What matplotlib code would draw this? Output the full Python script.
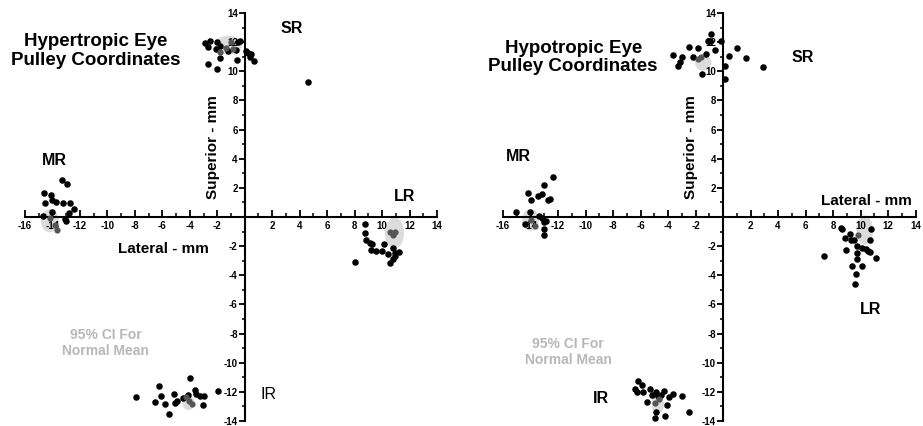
import matplotlib.pyplot as plt
from matplotlib.patches import Ellipse
from matplotlib.ticker import FixedLocator, FuncFormatter

plt.rcParams["font.family"] = ["Liberation Sans", "DejaVu Sans"]

# ---- Hypertropic eye (left panel) ----
hyper_sr_x = [-2.91, -2.55, -2.67, -2.02, -2.06, -1.82, -1.22, -0.49, -0.36, -0.61,
              -2.67, -2.02, -1.82, -0.56, 0.07, 0.24, 0.42, 0.36, 0.66, 4.61]
hyper_sr_y = [11.92, 12.06, 11.69, 12.0, 11.53, 11.76, 11.42, 12.0, 12.06, 11.46,
              10.5, 10.15, 10.92, 10.78, 11.37, 11.23, 11.19, 10.96, 10.68, 9.29]
hyper_mr_x = [-14.64, -14.08, -14.01, -13.77, -13.28, -12.92, -14.57, -13.23, -12.75,
              -12.45, -12.82, -12.99, -14.69, -13.08, -14.05]
hyper_mr_y = [1.63, 1.49, 1.15, 1.05, 2.54, 2.25, 0.94, 0.94, 0.94, 0.53, 0.25,
              -0.28, 0.07, -0.16, 0.32]
hyper_lr_x = [8.74, 8.74, 8.86, 9.10, 9.30, 9.22, 9.59, 9.96, 10.12, 10.8, 11.24,
              10.44, 10.92, 10.8, 10.61, 8.01, 10.95]
hyper_lr_y = [-0.46, -1.08, -1.6, -1.77, -1.88, -2.29, -2.34, -2.34, -1.88, -2.15,
              -2.38, -2.57, -2.68, -2.91, -3.14, -3.07, -2.45]
hyper_ir_x = [-7.94, -6.55, -6.24, -6.07, -5.78, -5.54, -5.17, -5.1, -4.9, -4.49,
              -4.13, -4.0, -3.64, -3.52, -3.28, -2.99, -3.04, -1.94]
hyper_ir_y = [-12.38, -12.7, -11.58, -12.31, -12.84, -13.5, -12.13, -12.77, -12.65,
              -12.43, -12.2, -11.05, -11.9, -12.15, -12.27, -12.31, -12.88, -11.92]

# normal means (dark grey) and 95% CI ellipses (cx, cy, w, h)
hyper_norm_x = [-1.8, -1.4, -1.0, -0.85, -14.2, -13.8, -13.7, 10.55, 10.8, 10.95, -4.3, -4.05, -3.85]
hyper_norm_y = [11.35, 11.6, 12.0, 11.5, -0.1, -0.55, -0.9, -1.0, -1.2, -1.05, -12.35, -12.6, -12.8]
hyper_ci = [(-1.2, 11.8, 2.0, 1.3), (-14.2, -0.25, 1.3, 1.6),
            (10.9, -1.1, 1.4, 2.1), (-4.1, -12.75, 0.9, 1.0)]

# ---- Hypotropic eye (right panel) ----
hypo_sr_x = [-3.63, -3.27, -3.15, -2.95, -2.47, -2.18, -1.82, -1.26, -1.09, -0.97,
             -0.84, -0.6, -0.17, 0.12, 0.17, 0.44, 1.02, 1.65, 2.91, -1.5]
hypo_sr_y = [11.12, 10.39, 10.66, 10.96, 11.69, 10.96, 11.59, 11.19, 12.06, 12.06,
             12.56, 11.46, 12.06, 10.39, 9.47, 11.07, 11.59, 10.89, 10.27, 9.84]
hypo_mr_x = [-15.07, -14.17, -13.93, -13.44, -13.2, -13.01, -12.76, -12.59, -12.4,
             -14.05, -14.41, -13.37, -13.13, -13.03, -13.03, -13.03, -12.89]
hypo_mr_y = [0.34, 1.63, 1.15, 1.44, 1.6, 2.18, 1.15, 1.22, 2.75, 0.34, -0.5, 0.07,
             -0.05, -0.32, -0.85, -1.24, -0.28]
hypo_lr_x = [7.34, 8.55, 8.68, 8.84, 8.92, 9.21, 9.33, 9.4, 9.52, 9.57, 9.69, 9.74,
             9.74, 9.74, 10.13, 10.13, 10.37, 10.54, 10.66, 10.78, 10.71, 11.15]
hypo_lr_y = [-2.68, -0.73, -0.85, -1.47, -2.29, -1.19, -1.6, -3.37, -1.6, -4.59, -3.9,
             -2.91, -2.45, -1.99, -3.37, -2.11, -2.22, -2.34, -1.6, -0.85, -2.41, -2.8]
hypo_ir_x = [-6.42, -6.18, -6.29, -5.86, -5.81, -5.33, -5.13, -4.84, -4.72, -4.53,
             -4.31, -3.95, -3.63, -3.02, -5.52, -4.04, -4.84, -4.24, -4.96, -2.47]
hypo_ir_y = [-11.78, -11.23, -12.02, -11.55, -12.02, -11.78, -12.24, -12.02, -12.31,
             -12.24, -11.92, -12.38, -12.13, -12.27, -12.7, -12.88, -13.39, -13.69,
             -13.76, -13.39]

hypo_norm_x = [-1.82, -1.57, -14.0, -13.7, 9.81, -4.95, -4.65]
hypo_norm_y = [10.85, 11.0, -0.2, -0.6, -1.26, -12.75, -12.5]
hypo_ci = [(-1.45, 10.6, 1.2, 1.1), (-14.0, -0.2, 1.2, 1.5),
           (10.3, -0.9, 1.2, 2.0), (-4.75, -12.85, 0.9, 1.3)]

fig = plt.figure(figsize=(9.23, 4.26), dpi=100)
ax1 = fig.add_axes([0.0271, 0.0117, 0.4464, 0.9577])
ax2 = fig.add_axes([0.545, 0.0117, 0.4469, 0.9577])


def setup(ax):
    ax.set_xlim(-16, 14)
    ax.set_ylim(-14, 14)
    for s in ["top", "right"]:
        ax.spines[s].set_visible(False)
    ax.spines["left"].set_position(("data", 0))
    ax.spines["bottom"].set_position(("data", 0))
    ax.spines["left"].set_linewidth(1.5)
    ax.spines["bottom"].set_linewidth(1.5)
    ax.xaxis.set_major_locator(FixedLocator(range(-16, 15, 2)))
    ax.xaxis.set_minor_locator(FixedLocator(range(-16, 15, 1)))
    ax.yaxis.set_major_locator(FixedLocator(range(-14, 15, 2)))
    ax.yaxis.set_minor_locator(FixedLocator(range(-14, 15, 1)))
    fmt = FuncFormatter(lambda v, p: "" if v == 0 else f"{int(v)}")
    ax.xaxis.set_major_formatter(fmt)
    ax.yaxis.set_major_formatter(fmt)
    ax.tick_params(axis="x", which="major", direction="in", length=5, width=1.3, pad=3)
    ax.tick_params(axis="x", which="minor", direction="in", length=3, width=1.1)
    ax.tick_params(axis="y", which="major", direction="out", length=4, width=1.3, pad=1)
    ax.tick_params(axis="y", which="minor", direction="out", length=2.5, width=1.1)
    for lab in ax.get_xticklabels() + ax.get_yticklabels():
        lab.set_fontsize(7)
        lab.set_fontweight("bold")
    ax.patch.set_alpha(0)


def draw(ax, groups, norm_x, norm_y, ci):
    for cx, cy, w, h in ci:
        ax.add_patch(Ellipse((cx, cy), w, h, color="#dcdcdc", zorder=1, lw=0))
    for gx, gy in groups:
        ax.scatter(gx, gy, s=22, color="black", zorder=2, lw=0)
    ax.scatter(norm_x, norm_y, s=20, color="#555555", zorder=3, lw=0)


setup(ax1)
draw(ax1, [(hyper_sr_x, hyper_sr_y), (hyper_mr_x, hyper_mr_y),
           (hyper_lr_x, hyper_lr_y), (hyper_ir_x, hyper_ir_y)],
     hyper_norm_x, hyper_norm_y, hyper_ci)
ax1.text(-10.85, 11.4, "Hypertropic Eye\nPulley Coordinates", ha="center", va="center",
         fontsize=13.5, fontweight="bold", linespacing=1.1)
ax1.text(3.4, 12.97, "SR", ha="center", va="center", fontsize=11.5, fontweight="bold")
ax1.text(-13.84, 3.85, "MR", ha="center", va="center", fontsize=11.5, fontweight="bold")
ax1.text(11.65, 1.38, "LR", ha="center", va="center", fontsize=11.5, fontweight="bold")
ax1.text(1.7, -12.2, "IR", ha="center", va="center", fontsize=11.5)
ax1.text(-5.95, -2.22, "Lateral - mm", ha="center", va="center", fontsize=11, fontweight="bold")
ax1.text(-2.3, 4.77, "Superior - mm", ha="center", va="center", rotation=90,
         fontsize=11, fontweight="bold")
ax1.text(-10.12, -8.64, "95% CI For\nNormal Mean", ha="center", va="center",
         fontsize=10, fontweight="bold", color="#b8b8b8")

setup(ax2)
draw(ax2, [(hypo_sr_x, hypo_sr_y), (hypo_mr_x, hypo_mr_y),
           (hypo_lr_x, hypo_lr_y), (hypo_ir_x, hypo_ir_y)],
     hypo_norm_x, hypo_norm_y, hypo_ci)
ax2.text(-10.9, 10.96, "Hypotropic Eye\nPulley Coordinates", ha="center", va="center",
         fontsize=13.5, fontweight="bold", linespacing=1.1)
ax2.text(5.81, 10.96, "SR", ha="center", va="center", fontsize=11.5, fontweight="bold")
ax2.text(-14.9, 4.13, "MR", ha="center", va="center", fontsize=11.5, fontweight="bold")
ax2.text(10.71, -6.35, "LR", ha="center", va="center", fontsize=11.5, fontweight="bold")
ax2.text(-8.89, -12.47, "IR", ha="center", va="center", fontsize=11.5, fontweight="bold")
ax2.text(10.42, 1.1, "Lateral - mm", ha="center", va="center", fontsize=11, fontweight="bold")
ax2.text(-2.3, 4.77, "Superior - mm", ha="center", va="center", rotation=90,
         fontsize=11, fontweight="bold")
ax2.text(-11.27, -9.26, "95% CI For\nNormal Mean", ha="center", va="center",
         fontsize=10, fontweight="bold", color="#b8b8b8")

fig.savefig("out.png", dpi=100)
